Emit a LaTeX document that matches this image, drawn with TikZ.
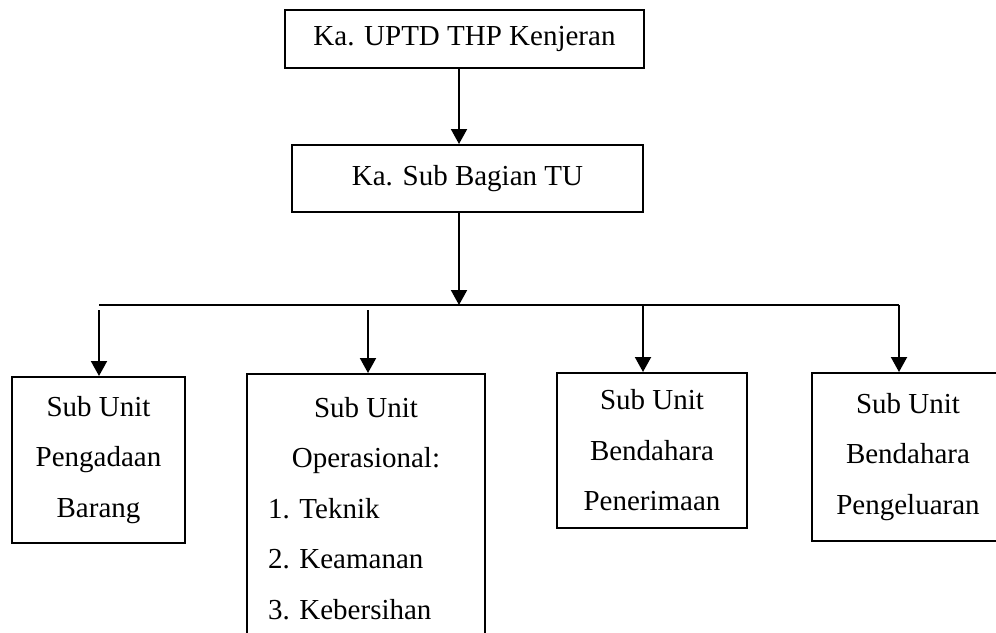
\documentclass[tikz,border=0pt]{standalone}
\usepackage{fontspec}
\setmainfont{Liberation Serif}
\usetikzlibrary{arrows.meta}

\tikzset{
  kotak/.style={draw, rectangle, line width=2pt, inner sep=0pt, align=flush center,
    font=\fontsize{29}{50.5}\selectfont},
  unit/.style={kotak, anchor=north},
}

\begin{document}
\begin{tikzpicture}[x=1pt,y=-1pt,>={Triangle[length=15pt,width=16pt]},line width=2pt]
\useasboundingbox (0,0) rectangle (996,632);
\clip (0,0) rectangle (996,632);

% pimpinan
\node[kotak, minimum width=359pt, minimum height=58pt] (kepala) at (464.5,39) {Ka. UPTD THP Kenjeran};
\node[kotak, minimum width=351pt, minimum height=67pt] (tu) at (467.5,178.5) {Ka. Sub Bagian TU};

% sub unit
\node[unit, text width=173pt, minimum height=166pt] (pengadaan) at (98.5,376) {Sub Unit\\ Pengadaan\\ Barang};
\node[unit, text width=196pt, inner xsep=21pt, align=flush left, minimum height=269pt] (operasional) at (366,373)
  {\noindent\makebox[196pt]{Sub Unit}\\ \makebox[196pt]{Operasional:}\\ 1. Teknik\\ 2. Keamanan\\ 3. Kebersihan};
\node[unit, text width=190pt, minimum height=155pt] (penerimaan) at (652,372) {Sub Unit\\ Bendahara\\ Penerimaan};
\node[unit, text width=192pt, minimum height=168pt] (pengeluaran) at (908,372) {Sub Unit\\ Bendahara\\ Pengeluaran};

% garis cabang
\coordinate (c0) at (459,305);
\coordinate (c1) at (99,305);
\coordinate (c2) at (368,305);
\coordinate (c3) at (643,305);
\coordinate (c4) at (899,305);

\draw[->] (kepala.south -| c0) -- (tu.north -| c0);
\draw[->] (tu.south -| c0) -- (c0);
\draw (c1) -- (c4);

\draw[->] ([yshift=-5pt]c1) -- (c1 |- pengadaan.north);
\draw[->] ([yshift=-5pt]c2) -- (c2 |- operasional.north);
\draw[->] (c3) -- (c3 |- penerimaan.north);
\draw[->] (c4) -- (c4 |- pengeluaran.north);

\end{tikzpicture}
\end{document}
